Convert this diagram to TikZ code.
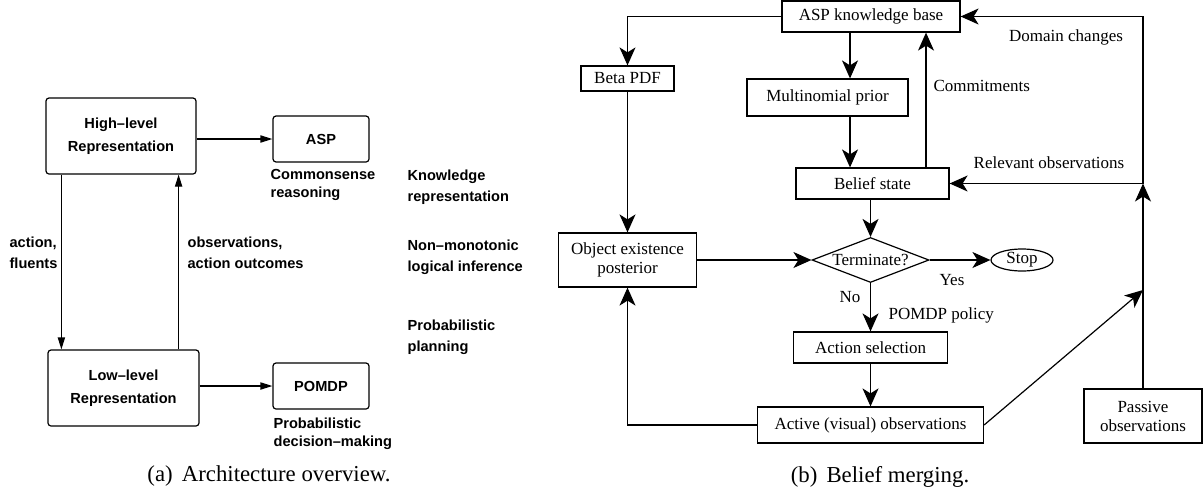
\documentclass[tikz,border=0pt]{standalone}
\usepackage{fontspec}
\setmainfont{Liberation Serif}
\newfontfamily\archfont{Liberation Sans}
\usetikzlibrary{shapes.geometric,arrows.meta,calc}

\begin{document}
\begin{tikzpicture}[x=0.5pt, y=-0.5pt, line width=0.6pt,
    lbox/.style={draw, rounded corners=1.5pt, align=center, inner sep=0pt,
        font=\archfont\bfseries\fontsize{7.3}{11.5}\selectfont},
    lnote/.style={anchor=west, align=left, inner sep=0pt,
        font=\archfont\bfseries\fontsize{7.3}{10.5}\selectfont},
    lsub/.style={lnote, font=\archfont\bfseries\fontsize{7.3}{9}\selectfont},
    larrow/.style={-{Triangle[length=6pt,width=3.6pt]}},
    rbox/.style={draw, align=center, inner sep=0pt,
        font=\fontsize{8.5}{9.5}\selectfont},
    rnote/.style={inner sep=0pt, font=\fontsize{8.5}{9.5}\selectfont},
    rarrow/.style={-{Stealth[length=9pt,width=8pt,inset=2.5pt]}},
    capt/.style={inner sep=0pt, font=\fontsize{11.4}{13}\selectfont}]
    \useasboundingbox (0,0) rectangle (1203,493);

    % Vista general
    \node[lbox, minimum width=75pt, minimum height=38pt] (high) at (121,136) {High–level\\Representation};
    \node[lbox, minimum width=48pt, minimum height=23pt] (asp) at (321,139) {ASP};
    \node[lbox, minimum width=75.5pt, minimum height=38pt] (low) at (123.5,388) {Low–level\\Representation};
    \node[lbox, minimum width=48pt, minimum height=23pt] (pomdp) at (321,386) {POMDP};

    \node[lsub] (csr) at (270,184.5) {Commonsense\\reasoning};
    \node[lsub] (pdm) at (273,433.5) {Probabilistic\\decision–making};
    \node[lnote] (af) at (9,252.5) {action,\\fluents};
    \node[lnote] (obs) at (187,252.5) {observations,\\action outcomes};

    % Niveles
    \foreach \y/\txt/\nm in {187.5/{Knowledge\\representation}/kr,
                             257.5/{Non–monotonic\\logical inference}/nm,
                             337.5/{Probabilistic\\planning}/pp} {
        \node[lnote] (\nm) at (407,\y) {\txt};
    }

    \draw[larrow] (high.east |- asp.west) -- (asp.west);
    \draw[larrow] (low.east |- pomdp.west) -- (pomdp.west);
    \coordinate (down) at ($(high.south west)+(16,0)$);
    \draw[larrow] (down) -- (down |- low.north);
    \coordinate (up) at ($(high.south east)+(-18,0)$);
    \draw[larrow] (up |- low.north) -- (up);

    % Fusion de creencias
    \node[rbox, minimum width=89pt, minimum height=15.5pt] (kb) at (871,16.5) {ASP knowledge base};
    \node[rbox, minimum width=46.5pt, minimum height=12.5pt] (beta) at (627.5,78.5) {Beta PDF};
    \node[rbox, minimum width=80.5pt, minimum height=18.5pt] (multi) at (827.5,97.5) {Multinomial prior};
    \node[rbox, minimum width=76.5pt, minimum height=15.5pt] (belief) at (872.5,183.5) {Belief state};
    \node[rbox, minimum width=69pt, minimum height=27pt] (obj) at (627.5,260) {Object existence\\posterior};
    \node[rbox, diamond, aspect=2.6, minimum width=58.5pt, minimum height=22.5pt] (term) at (870.5,260) {Terminate?};
    \node[rbox, ellipse, minimum width=31pt, minimum height=11pt] (stop) at (1022,260) {Stop};
    \node[rbox, minimum width=77pt, minimum height=15.5pt] (act) at (870.5,347.5) {Action selection};
    \node[rbox, minimum width=113pt, minimum height=18pt] (actobs) at (870.5,425) {Active (visual) observations};
    \node[rbox, minimum width=59pt, minimum height=27pt] (passive) at (1143,416) {Passive\\observations};

    \node[rnote, anchor=west] (commit) at (933,86) {Commitments};
    \node[rnote] (dom) at (1066,37) {Domain changes};
    \node[rnote] (rel) at (1049,163) {Relevant observations};
    \node[rnote] (yes) at (952,280) {Yes};
    \node[rnote] (no) at (850,297) {No};
    \node[rnote, anchor=west] (policy) at (888,315) {POMDP policy};

    \draw[rarrow] (kb.west) -| (beta.north);
    \draw[rarrow] (beta.south) -- (obj.north);
    \coordinate (kbm) at ($(kb.south)+(-21,0)$);
    \draw[rarrow] (kbm) -- (kbm |- multi.north);
    \draw[rarrow] (kbm |- multi.south) -- (kbm |- belief.north);
    \coordinate (cm) at ($(belief.north)+(53.5,0)$);
    \draw[rarrow] (cm) -- (cm |- kb.south);
    \draw[rarrow] (belief.south -| term.north) -- (term.north);
    \draw[rarrow] (obj.east) -- (term.west);
    \draw[rarrow] (term.east) -- (stop.west);
    \draw[rarrow] (term.south) -- (act.north);
    \draw[rarrow] (act.south) -- (actobs.north);
    \draw[rarrow] (actobs.west) -| (obj.south);
    \coordinate (pj) at (1143,290);
    \draw[rarrow] (actobs.east) -- (pj);
    \coordinate (rj) at (passive.north |- belief.east);
    \draw[rarrow] (passive.north) -- (rj);
    \draw[rarrow] (rj) |- (kb.east);
    \draw[rarrow] (rj) -- (belief.east);

    % Leyendas
    \node[capt] (capa) at (269,476) {(a)\hspace{0.4em}Architecture overview.};
    \node[capt] (capb) at (880,477) {(b)\hspace{0.4em}Belief merging.};
\end{tikzpicture}
\end{document}
